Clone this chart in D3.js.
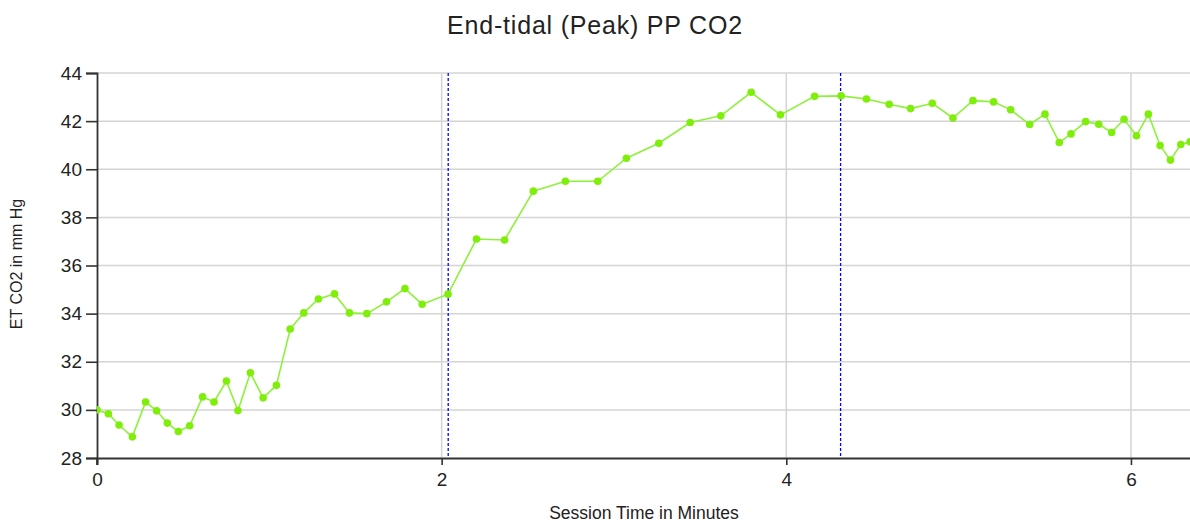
<!DOCTYPE html>
<html>
<head>
<meta charset="utf-8">
<script src="https://cdn.jsdelivr.net/npm/d3@7"></script>
<style>
  body { margin: 0; background: #fff; }
  text { font-family: "Liberation Sans", Arial, sans-serif; fill: #222; }
</style>
</head>
<body>
<div id="chart"></div>
<script>
// session time (minutes) and peak end-tidal CO2 (mm Hg)
const times = [0.000, 0.066, 0.128, 0.205, 0.282, 0.346, 0.408, 0.472, 0.538, 0.613,
               0.679, 0.751, 0.818, 0.890, 0.964, 1.041, 1.121, 1.200, 1.285, 1.378,
               1.465, 1.566, 1.680, 1.787, 1.887, 2.037, 2.202, 2.365, 2.532, 2.718,
               2.906, 3.072, 3.260, 3.442, 3.620, 3.796, 3.966, 4.164, 4.318, 4.465,
               4.597, 4.721, 4.847, 4.967, 5.083, 5.203, 5.302, 5.412, 5.501, 5.584,
               5.652, 5.737, 5.813, 5.888, 5.960, 6.032, 6.101, 6.169, 6.229, 6.289,
               6.343];
const co2 = [30.00, 29.84, 29.37, 28.88, 30.33, 29.96, 29.45, 29.10, 29.34, 30.54,
             30.33, 31.20, 29.97, 31.54, 30.50, 31.02, 33.36, 34.03, 34.61, 34.82,
             34.03, 34.00, 34.49, 35.04, 34.39, 34.81, 37.10, 37.06, 39.09, 39.50,
             39.50, 40.46, 41.08, 41.94, 42.22, 43.20, 42.26, 43.03, 43.05, 42.92,
             42.70, 42.52, 42.74, 42.13, 42.85, 42.80, 42.47, 41.86, 42.29, 41.11,
             41.47, 41.98, 41.87, 41.53, 42.08, 41.39, 42.29, 40.99, 40.38, 41.03,
             41.14];
// event markers (minutes)
const markers = [2.038, 4.315];
const xTicks = [0, 2, 4, 6];
const yTicks = [28, 30, 32, 34, 36, 38, 40, 42, 44];

const width = 1190, height = 524;
const margin = {top: 73, right: -3, bottom: 66, left: 97};

const svg = d3.select("#chart")
              .append("svg")
              .attr("width", width)
              .attr("height", height);

const x = d3.scaleLinear()
            .domain([0, 6.36])
            .range([margin.left, width - margin.right]);
const y = d3.scaleLinear()
            .domain([28, 44])
            .range([height - margin.bottom, margin.top]);

const data = times.map((t, i) => ({t: t, v: co2[i]}));

svg.append("clipPath").attr("id", "clip")
   .append("rect")
   .attr("x", margin.left).attr("y", margin.top - 6)
   .attr("width", width - margin.left).attr("height", y(28) - margin.top + 12);

// gridlines
const grid = svg.append("g");
grid.selectAll("line.h")
    .data(yTicks.slice(1))
    .enter().append("line")
    .attr("x1", margin.left).attr("x2", width)
    .attr("y1", d => y(d)).attr("y2", d => y(d))
    .attr("stroke", "#d4d4d4").attr("stroke-width", 1.5);
grid.selectAll("line.v")
    .data(xTicks.slice(1))
    .enter().append("line")
    .attr("x1", d => x(d)).attr("x2", d => x(d))
    .attr("y1", y(44)).attr("y2", y(28))
    .attr("stroke", "#d4d4d4").attr("stroke-width", 1.5);

// event markers
svg.selectAll("line.marker")
   .data(markers)
   .enter().append("line")
   .attr("x1", d => x(d)).attr("x2", d => x(d))
   .attr("y1", y(44)).attr("y2", y(28))
   .attr("stroke", "#0000ff").attr("stroke-width", 1.3)
   .attr("stroke-dasharray", "3,2");

// axes
const xAxis = svg.append("g")
                 .attr("transform", "translate(0," + y(28) + ")")
                 .call(d3.axisBottom(x).tickValues(xTicks).tickSize(7).tickPadding(8).tickFormat(d3.format("d")));
const yAxis = svg.append("g")
                 .attr("transform", "translate(" + margin.left + ",0)")
                 .call(d3.axisLeft(y).tickValues(yTicks).tickSize(11).tickPadding(4).tickFormat(d3.format("d")));
[xAxis, yAxis].forEach(a => {
  a.select(".domain").attr("stroke", "#333").attr("stroke-width", 1.8);
  a.selectAll(".tick line").attr("stroke", "#333").attr("stroke-width", 1.6);
  a.selectAll(".tick text").style("font-size", "19px").style("fill", "#222");
});
// small tick under the y axis origin
yAxis.append("line")
     .attr("x1", 0).attr("x2", 0).attr("y1", y(28)).attr("y2", y(28) + 7)
     .attr("stroke", "#333").attr("stroke-width", 1.6);

// series
const plot = svg.append("g").attr("clip-path", "url(#clip)");
const line = d3.line().x(d => x(d.t)).y(d => y(d.v));
plot.append("path")
    .datum(data)
    .attr("d", line)
    .attr("fill", "none")
    .attr("stroke", "#8cf23a")
    .attr("stroke-width", 1.6);
plot.selectAll("circle")
    .data(data)
    .enter().append("circle")
    .attr("cx", d => x(d.t))
    .attr("cy", d => y(d.v))
    .attr("r", 3.8)
    .attr("fill", "#7fee0a");

// titles
svg.append("text")
   .attr("x", 595).attr("y", 34)
   .attr("text-anchor", "middle")
   .style("font-size", "25px")
   .style("letter-spacing", "0.8px")
   .text("End-tidal (Peak) PP CO2");
svg.append("text")
   .attr("x", 644).attr("y", 519)
   .attr("text-anchor", "middle")
   .style("font-size", "17.5px")
   .text("Session Time in Minutes");
svg.append("text")
   .attr("transform", "translate(22,264) rotate(-90)")
   .attr("text-anchor", "middle")
   .style("font-size", "16px")
   .text("ET CO2 in mm Hg");
</script>
</body>
</html>
